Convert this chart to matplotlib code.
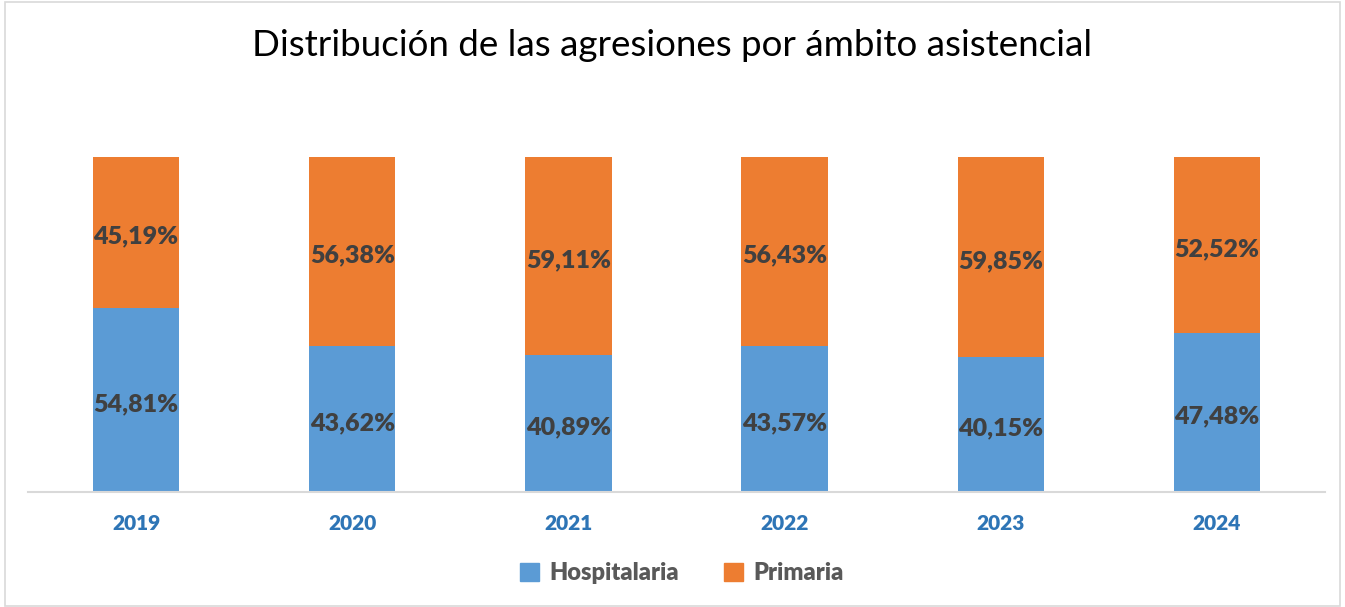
import matplotlib
matplotlib.use("Agg")
import matplotlib.pyplot as plt
from matplotlib.patches import Rectangle, Patch
from matplotlib.transforms import offset_copy

years = ["2019", "2020", "2021", "2022", "2023", "2024"]
hospitalaria = [54.81, 43.62, 40.89, 43.57, 40.15, 47.48]
primaria = [45.19, 56.38, 59.11, 56.43, 59.85, 52.52]

BLUE = "#5B9BD5"
ORANGE = "#ED7D31"
LABEL = "#404040"
TICK = "#2E75B6"

plt.rcParams['font.family'] = ['Lato', 'DejaVu Sans']

W, H = 1345, 607
fig = plt.figure(figsize=(W / 100, H / 100), dpi=100)
ax = fig.add_axes([28 / W, (H - 492) / H, (1325 - 28) / W, (492 - 157) / H])

x = list(range(len(years)))
bw = 0.40
ax.bar(x, hospitalaria, width=bw, color=BLUE, label="Hospitalaria")
ax.bar(x, primaria, width=bw, bottom=hospitalaria, color=ORANGE, label="Primaria")

tr = offset_copy(ax.transData, fig=fig, x=0, y=-4, units="dots")
for i in x:
    h = hospitalaria[i]
    p = primaria[i]
    ax.text(i, h / 2, f"{h:.2f}%".replace(".", ","), ha="center", va="center",
            fontsize=18, fontweight="heavy", color=LABEL, transform=tr)
    ax.text(i, h + p / 2, f"{p:.2f}%".replace(".", ","), ha="center", va="center",
            fontsize=18, fontweight="heavy", color=LABEL, transform=tr)

ax.set_xlim(-0.5, len(years) - 0.5)
ax.set_ylim(0, 100)
ax.set_xticks(x)
ax.set_xticklabels(years, fontsize=15, fontweight="heavy", color=TICK)
ax.tick_params(axis="x", length=0, pad=16)
ax.set_yticks([])
for s in ["top", "right", "left"]:
    ax.spines[s].set_visible(False)
ax.spines["bottom"].set_color("#D9D9D9")
ax.spines["bottom"].set_linewidth(1.5)

fig.text(0.5, (H - 46) / H, "Distribución de las agresiones por ámbito asistencial",
         ha="center", va="center", fontsize=26.5, color="#000000")

handles = [Patch(color=BLUE), Patch(color=ORANGE)]
leg = fig.legend(handles, ["Hospitalaria", "Primaria"], loc="center",
                 bbox_to_anchor=((682) / W, (H - 573) / H), ncol=2, frameon=False,
                 prop={"size": 17, "weight": "heavy"}, handlelength=0.8,
                 handleheight=0.8, handletextpad=0.45, columnspacing=1.9)
for t in leg.get_texts():
    t.set_color("#595959")

fig.patches.append(Rectangle((5 / W, 1 / H), (W - 10) / W, (H - 3) / H,
                             transform=fig.transFigure, fill=False,
                             edgecolor="#D9D9D9", linewidth=1.2))

fig.savefig("out.png", dpi=100)
